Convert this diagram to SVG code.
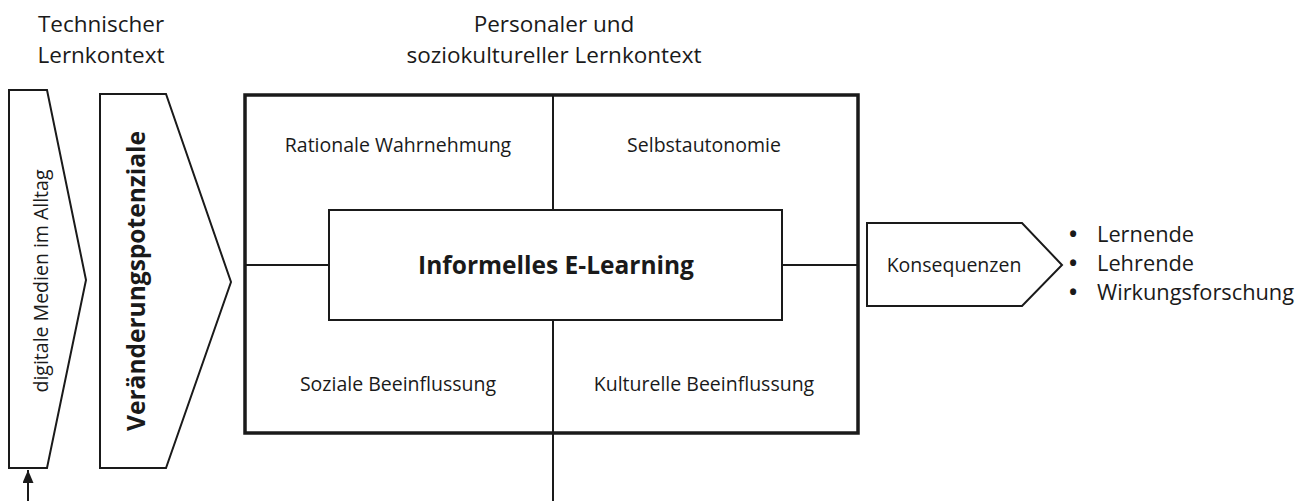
<svg xmlns="http://www.w3.org/2000/svg" width="1301" height="501" viewBox="0 0 1301 501">
<defs>
<style>
text{font-family:"Open Sans","Noto Sans","Liberation Sans",sans-serif;fill:#1a1a1a}
.h{font-size:22.5px;text-anchor:middle}
.q{font-size:19.5px;text-anchor:middle}
.b{font-weight:bold;text-anchor:middle}
.s{fill:#fff;stroke:#1a1a1a;stroke-width:2}
.l{stroke:#1a1a1a;stroke-width:2;fill:none}
.li{font-size:21.8px}
.bu{font-weight:bold}
</style>
<marker id="ah" viewBox="0 0 13 11" refX="13" refY="5.5" markerWidth="13" markerHeight="11" markerUnits="userSpaceOnUse" orient="auto"><path d="M0,0L13,5.5L0,11z" fill="#1a1a1a"/></marker>
</defs>
<g id="labels">
<text class="h" x="101" y="32">Technischer</text>
<text class="h" x="101" y="63">Lernkontext</text>
<text class="h" x="554" y="32">Personaler und</text>
<text class="h" x="554" y="63">soziokultureller Lernkontext</text>
</g>
<g id="connectors">
<line class="l" x1="553" y1="95" x2="553" y2="210"/>
<line class="l" x1="553" y1="320" x2="553" y2="501"/>
<line class="l" x1="245" y1="265" x2="329" y2="265"/>
<line class="l" x1="782" y1="265" x2="858" y2="265"/>
<line class="l" x1="28" y1="501" x2="28" y2="470" stroke-width="2.5" marker-end="url(#ah)"/>
</g>
<g id="digitale-medien">
<polygon class="s" points="9,90 47,90 86,280 47,468 9,468"/>
<text class="q" transform="translate(48,281) rotate(-90)">digitale Medien im Alltag</text>
</g>
<g id="veraenderungspotenziale">
<polygon class="s" points="100,94 166,94 231,282 166,468 100,468"/>
<text class="b" font-size="24.5" transform="translate(145,281) rotate(-90)">Veränderungspotenziale</text>
</g>
<g id="kontext">
<rect x="245" y="95" width="613" height="338" fill="none" stroke="#1a1a1a" stroke-width="3.5"/>
<text class="q" x="398" y="152">Rationale Wahrnehmung</text>
<text class="q" x="704" y="152">Selbstautonomie</text>
<text class="q" x="398" y="391">Soziale Beeinflussung</text>
<text class="q" x="704" y="391">Kulturelle Beeinflussung</text>
</g>
<g id="informelles-e-learning">
<rect class="s" x="329" y="210" width="453" height="110"/>
<text class="b" font-size="24.5" x="556" y="274">Informelles E-Learning</text>
</g>
<g id="konsequenzen">
<polygon class="s" points="867,223 1022,223 1062,265 1022,306 867,306"/>
<text class="q" font-size="18.8" x="954" y="272">Konsequenzen</text>
</g>
<g id="liste">
<text class="li" x="1069" y="242"><tspan class="bu">•</tspan><tspan x="1097">Lernende</tspan></text>
<text class="li" x="1069" y="271"><tspan class="bu">•</tspan><tspan x="1097">Lehrende</tspan></text>
<text class="li" x="1069" y="300"><tspan class="bu">•</tspan><tspan x="1097">Wirkungsforschung</tspan></text>
</g>
</svg>
